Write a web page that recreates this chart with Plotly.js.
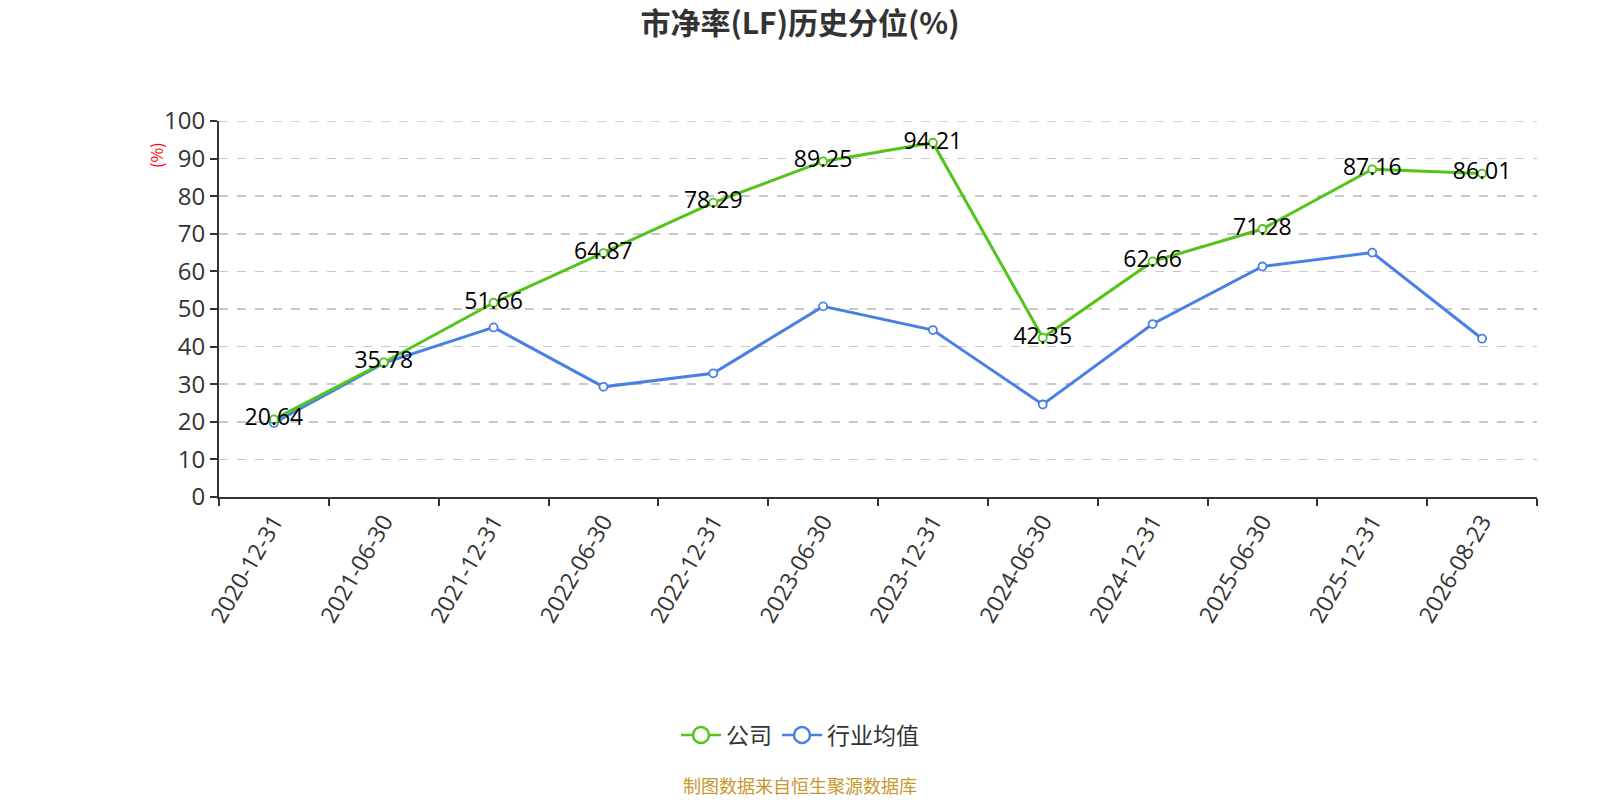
<!DOCTYPE html>
<html>
<head>
<meta charset="utf-8">
<script src="https://cdn.plot.ly/plotly-3.0.1.min.js"></script>
<style>html,body{margin:0;padding:0;background:#fff;}#chart{width:1600px;height:800px;}</style>
</head>
<body>
<div id="chart"></div>
<script>
const categories = ["2020-12-31","2021-06-30","2021-12-31","2022-06-30","2022-12-31","2023-06-30","2023-12-31","2024-06-30","2024-12-31","2025-06-30","2025-12-31","2026-08-23"];
const companyValues = [20.64, 35.78, 51.66, 64.87, 78.29, 89.25, 94.21, 42.35, 62.66, 71.28, 87.16, 86.01];
const industryValues = [19.7, 35.6, 45.1, 29.3, 32.9, 50.7, 44.4, 24.6, 46.0, 61.3, 65.0, 42.1];
const seriesNames = ["公司", "行业均值"];
const titleText = "市净率(LF)历史分位(%)";
const yUnit = "(%)";
const sourceText = "制图数据来自恒生聚源数据库";
const yTicks = [0,10,20,30,40,50,60,70,80,90,100];

const NUMFONT = '"Open Sans", "Noto Sans CJK SC", sans-serif';
const CJKFONT = '"Noto Sans CJK SC", "Open Sans", sans-serif';
const green = '#52C41A';
const blue = '#4A80E3';

const industryTrace = {
  x: categories, y: industryValues, name: seriesNames[1],
  type: 'scatter', mode: 'lines+markers', showlegend: false,
  line: {color: blue, width: 3},
  marker: {symbol: 'circle', size: 8, color: '#fff', line: {color: blue, width: 1.8}},
  cliponaxis: false
};
const companyTrace = {
  x: categories, y: companyValues, name: seriesNames[0],
  type: 'scatter', mode: 'lines+markers+text', showlegend: false,
  line: {color: green, width: 3},
  marker: {symbol: 'circle', size: 8, color: '#fff', line: {color: green, width: 1.8}},
  text: companyValues.map(v => v.toFixed(2)),
  textposition: 'middle center',
  textfont: {family: NUMFONT, size: 23, color: '#000'},
  cliponaxis: false
};
// legend-only entries (no data drawn) with larger symbols, as in the reference legend
const legendCompany = {
  x: [null], y: [null], name: seriesNames[0], type: 'scatter', mode: 'lines+markers',
  line: {color: green, width: 2.5},
  marker: {symbol: 'circle', size: 16, color: '#fff', line: {color: green, width: 2.5}}
};
const legendIndustry = {
  x: [null], y: [null], name: seriesNames[1], type: 'scatter', mode: 'lines+markers',
  line: {color: blue, width: 2.5},
  marker: {symbol: 'circle', size: 16, color: '#fff', line: {color: blue, width: 2.5}}
};
const data = [industryTrace, companyTrace, legendCompany, legendIndustry];

const topTick = yTicks[yTicks.length - 1];

const layout = {
  width: 1600, height: 800,
  paper_bgcolor: '#fff', plot_bgcolor: '#fff',
  margin: {l: 219, r: 63, t: 121, b: 303},
  font: {family: CJKFONT, color: '#333'},
  title: {
    text: '<b>' + titleText + '</b>',
    font: {family: CJKFONT, size: 30, color: '#333'},
    x: 0.5, xref: 'container', xanchor: 'center',
    y: 1 - 23/800, yref: 'container', yanchor: 'middle'
  },
  showlegend: true,
  legend: {
    orientation: 'h', x: (800-219)/1318, xanchor: 'center',
    y: (497-735)/376, yanchor: 'middle',
    font: {family: CJKFONT, size: 23, color: '#333'},
    itemwidth: 40
  },
  xaxis: {
    type: 'category',
    range: [-0.5, categories.length - 0.5],
    tickson: 'boundaries',
    ticks: 'outside', ticklen: 7, tickwidth: 2, tickcolor: '#333',
    showline: true, linecolor: '#333', linewidth: 2,
    showgrid: false, zeroline: false,
    tickangle: -60,
    tickfont: {family: NUMFONT, size: 23, color: '#333'},
    fixedrange: true
  },
  yaxis: {
    range: [0, topTick],
    tickvals: yTicks,
    ticks: 'outside', ticklen: 7, tickwidth: 2, tickcolor: '#333',
    showline: true, linecolor: '#333', linewidth: 2,
    showgrid: true, gridcolor: '#c8c8c8', griddash: 'dash', gridwidth: 1.5,
    zeroline: false,
    tickfont: {family: NUMFONT, size: 24, color: '#333'},
    fixedrange: true
  },
  shapes: [
    { // top gridline at the highest tick (Plotly omits the gridline on the plot edge)
      type: 'line', xref: 'paper', yref: 'y', x0: 0, x1: 1, y0: topTick, y1: topTick,
      line: {color: '#c8c8c8', width: 1.5, dash: 'dash'}, layer: 'below'
    }
  ],
  annotations: [
    {
      text: yUnit, xref: 'paper', yref: 'paper',
      x: (156-219)/1318, y: (497-155)/376, xanchor: 'center', yanchor: 'middle',
      textangle: -90, showarrow: false,
      font: {family: CJKFONT, size: 16, color: '#ff0000'}
    },
    {
      text: sourceText, xref: 'paper', yref: 'paper',
      x: (800-219)/1318, y: (497-785)/376, xanchor: 'center', yanchor: 'middle',
      showarrow: false,
      font: {family: CJKFONT, size: 18, color: '#C8962E'}
    }
  ]
};

Plotly.newPlot('chart', data, layout, {displayModeBar: false, staticPlot: true});
</script>
</body>
</html>
